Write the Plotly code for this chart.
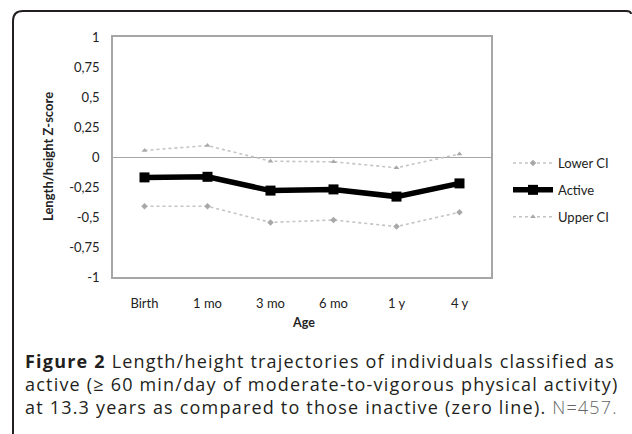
import plotly.graph_objects as go

ages = ["Birth", "1 mo", "3 mo", "6 mo", "1 y", "4 y"]
lower_ci = [-0.41, -0.41, -0.545, -0.525, -0.58, -0.46]
active = [-0.17, -0.165, -0.28, -0.27, -0.33, -0.22]
upper_ci = [0.055, 0.095, -0.035, -0.04, -0.09, 0.025]
y_tickvals = [1, 0.75, 0.5, 0.25, 0, -0.25, -0.5, -0.75, -1]
y_ticktext = ["1", "0,75", "0,5", "0,25", "0", "-0,25", "-0,5", "-0,75", "-1"]

W, H = 632, 434
L, R, T, B = 113, 491, 37, 277
def px(x):
    return (x - L) / (R - L)
def py(y):
    return (B - y) / (B - T)

CHART_FONT = "Lato, Carlito, sans-serif"
CAP_FONT = "Open Sans, Noto Sans, sans-serif"
LS = "letter-spacing:1.2px"

fig = go.Figure()
fig.add_trace(go.Scatter(
    x=ages, y=lower_ci, name="Lower CI", mode="lines+markers",
    line=dict(color="#c4c4c4", width=1.6, dash="dot"),
    marker=dict(symbol="diamond", size=5, color="#a8a8a8"),
    legendgroup="a"))
fig.add_trace(go.Scatter(
    x=ages, y=active, name="Active", mode="lines+markers",
    line=dict(color="#000000", width=5.5),
    marker=dict(symbol="square", size=10, color="#000000"),
    legendgroup="b"))
fig.add_trace(go.Scatter(
    x=ages, y=upper_ci, name="Upper CI", mode="lines+markers",
    line=dict(color="#c4c4c4", width=1.6, dash="dot"),
    marker=dict(symbol="triangle-up", size=5, color="#a8a8a8"),
    legendgroup="c"))

fig.update_xaxes(
    range=[-0.5, len(ages) - 0.5],
    showline=True, mirror=True, linecolor="#a6a6a6", linewidth=1.5,
    showgrid=False, ticks="", ticklen=0, ticklabelstandoff=14,
    tickfont=dict(family=CHART_FONT, size=13, color="#222"))
fig.update_yaxes(
    range=[-1, 1], tickvals=y_tickvals, ticktext=y_ticktext,
    showline=True, mirror=True, linecolor="#a6a6a6", linewidth=1.5,
    showgrid=False, zeroline=True, zerolinecolor="#a6a6a6", zerolinewidth=1.2,
    ticks="", ticklen=0, ticklabelstandoff=9,
    tickfont=dict(family=CHART_FONT, size=13, color="#222"))

annotations = [
    dict(text="<b>Length/height Z-score</b>", x=px(48), y=py(157), xref="paper", yref="paper",
         xanchor="center", yanchor="middle",
         textangle=-90, showarrow=False, font=dict(family=CHART_FONT, size=13, color="#222")),
    dict(text="<b>Age</b>", x=px(303), y=py(322), xref="paper", yref="paper",
         xanchor="center", yanchor="middle",
         showarrow=False, font=dict(family=CHART_FONT, size=12.5, color="#222")),
    dict(text=f"<span style='{LS}'><b>Figure 2</b> Length/height trajectories of individuals classified as</span>",
         x=px(23), y=py(361), xref="paper", yref="paper", xanchor="left", yanchor="middle",
         showarrow=False, font=dict(family=CAP_FONT, size=18, color="#231f20")),
    dict(text=f"<span style='{LS}'>active (≥ 60 min/day of moderate-to-vigorous physical activity)</span>",
         x=px(23), y=py(384), xref="paper", yref="paper", xanchor="left", yanchor="middle",
         showarrow=False, font=dict(family=CAP_FONT, size=18, color="#231f20")),
    dict(text=f"<span style='{LS}'>at 13.3 years as compared to those inactive (zero line). </span><span style='{LS};font-weight:300;color:#666'>N=457.</span>",
         x=px(23), y=py(407), xref="paper", yref="paper", xanchor="left", yanchor="middle",
         showarrow=False, font=dict(family=CAP_FONT, size=18, color="#231f20")),
]

x0, y0 = px(13), py(11)
r_x, r_y = 10 / (R - L), 10 / (B - T)
frame = (f"M {x0},{py(450)} L {x0},{y0 - r_y} Q {x0},{y0} {x0 + r_x},{y0} "
         f"L {px(626)},{y0} Q {px(631)},{y0} {px(631)},{py(14)}")

fig.update_layout(
    width=W, height=H,
    margin=dict(l=L, r=W - R, t=T, b=H - B),
    paper_bgcolor="white", plot_bgcolor="white",
    showlegend=True,
    legend=dict(x=px(508), y=py(148), xanchor="left", yanchor="top",
                traceorder="grouped", tracegroupgap=7,
                font=dict(family=CHART_FONT, size=13, color="#222"),
                bgcolor="rgba(0,0,0,0)", itemwidth=40),
    annotations=annotations,
    shapes=[dict(type="path", path=frame, xref="paper", yref="paper",
                 line=dict(color="#231f20", width=2))],
)

fig.write_html("out.html", config={"displayModeBar": False},
               post_script="document.body.style.margin='0px';document.body.style.overflow='hidden';")
